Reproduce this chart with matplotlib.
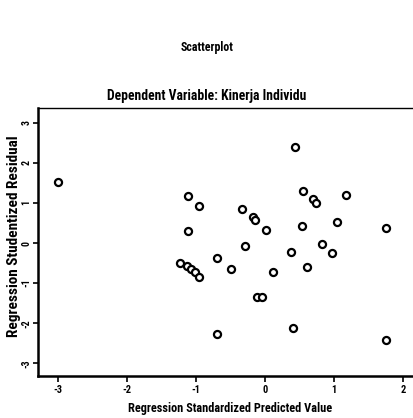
import matplotlib
matplotlib.use("Agg")
import matplotlib.pyplot as plt
from matplotlib import font_manager as fm

x_pred = [-3.00, -1.12, -0.96, -1.12, -1.23, -1.13, -1.08, -1.02, -0.96, -0.70,
          -0.70, -0.49, -0.33, -0.29, -0.18, -0.15, -0.12, -0.05, 0.02, 0.11,
          0.37, 0.43, 0.40, 0.55, 0.54, 0.61, 0.69, 0.74, 0.83, 0.97,
          1.05, 1.18, 1.75, 1.75]
y_resid = [1.51, 1.17, 0.93, 0.29, -0.49, -0.58, -0.65, -0.72, -0.85, -0.37,
           -2.27, -0.65, 0.85, -0.08, 0.66, 0.57, -1.34, -1.34, 0.33, -0.71,
           -0.23, 2.39, -2.12, 1.29, 0.43, -0.60, 1.09, 1.00, -0.02, -0.25,
           0.53, 1.19, 0.37, -2.43]
x_ticks = [-3, -2, -1, 0, 1, 2]
y_ticks = [-3, -2, -1, 0, 1, 2, 3]

names = {f.name for f in fm.fontManager.ttflist}
fam = 'DejaVu Sans'
for cand in ['Liberation Sans Narrow', 'Roboto Condensed', 'Open Sans Condensed', 'DejaVu Sans Condensed']:
    if cand in names:
        fam = cand
        break
plt.rcParams['font.family'] = [fam, 'DejaVu Sans']
plt.rcParams['font.weight'] = 'bold'
plt.rcParams['font.stretch'] = 'condensed'

fig = plt.figure(figsize=(4.14, 4.18), dpi=100)
ax = fig.add_axes([0.092, 0.100, 0.908, 0.642])
ax.scatter(x_pred, y_resid, s=26, facecolors='white', edgecolors='black', linewidths=1.6, zorder=3)
ax.set_xlim(-3.29, 2.16)
ax.set_ylim(-3.32, 3.37)
ax.set_xticks(x_ticks)
ax.set_yticks(y_ticks)
ax.set_xticklabels([str(t) for t in x_ticks], fontsize=7.5, fontweight='bold')
ax.set_yticklabels([str(t) for t in y_ticks], fontsize=7, fontweight='bold', rotation=90, va='center')
ax.tick_params(direction='out', length=4, width=1.2, pad=2)
ax.tick_params(axis='y', length=3.5, pad=1.2)
for s in ['left', 'bottom']:
    ax.spines[s].set_linewidth(1.8)
ax.spines['top'].set_linewidth(1.0)
ax.spines['right'].set_visible(False)

ax.set_xlabel('Regression Standardized Predicted Value', fontsize=8.8, fontweight='bold', va='center')
ax.xaxis.set_label_coords((230 - 38) / 376, -32 / 268)
ax.set_ylabel('Regression Studentized Residual', fontsize=11, fontweight='bold')
ax.yaxis.set_label_coords(-17.5 / 376, 0.52)

fig.text(0.5, 1 - 48 / 418, 'Scatterplot', ha='center', va='center', fontsize=8.6, fontweight='bold')
fig.text(0.5, 1 - 96 / 418, 'Dependent Variable: Kinerja Individu', ha='center', va='center', fontsize=9.8, fontweight='bold')

fig.savefig('out.png', dpi=100, facecolor='white')
